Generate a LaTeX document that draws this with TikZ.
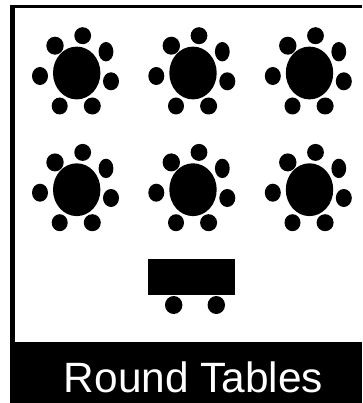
\documentclass[tikz,border=0pt]{standalone}
\usepackage{fontspec}
\setmainfont{Liberation Sans}
\tikzset{
  x=1pt,y=-1pt,
  ink/.style={fill=black,draw=none},
  pics/roundtable/.style={code={
    \fill[ink] (0,0) ellipse[x radius=23.7,y radius=26.4];
    \fill[ink] (6,-37.3) ellipse[x radius=8.4,y radius=8.5];
    \fill[ink] (-21.7,-27.3) ellipse[x radius=8.7,y radius=9];
    \fill[ink] (29.3,-21.3) ellipse[x radius=7.4,y radius=9.7];
    \fill[ink] (-36.7,3) ellipse[x radius=8,y radius=9];
    \fill[ink] (34.3,8.3) ellipse[x radius=8,y radius=9];
    \fill[ink] (-17,33) ellipse[x radius=8,y radius=8.5];
    \fill[ink] (15.6,33) ellipse[x radius=8.5,y radius=8.5];
  }}
}
\begin{document}
\begin{tikzpicture}
\useasboundingbox (0,0) rectangle (362,403);
\fill[white] (0,0) rectangle (362,403);
\fill[black] (10,5) rectangle (362,403);
\fill[white] (15,8.5) rectangle (362,342);
\foreach \cx in {76.7,193,309.5}{
  \foreach \cy in {73,189.7}{
    \pic at (\cx,\cy) {roundtable};
  }
}
\fill[ink] (147.7,259) rectangle (234.7,294.5);
\fill[ink] (173.7,305) ellipse[x radius=8.7,y radius=9];
\fill[ink] (216.3,305) ellipse[x radius=8.7,y radius=9];
\node[text=white,font=\fontsize{42.4}{48}\selectfont,inner sep=0pt,anchor=base] (caption) at (193.5,392) {Round Tables};
\end{tikzpicture}
\end{document}
